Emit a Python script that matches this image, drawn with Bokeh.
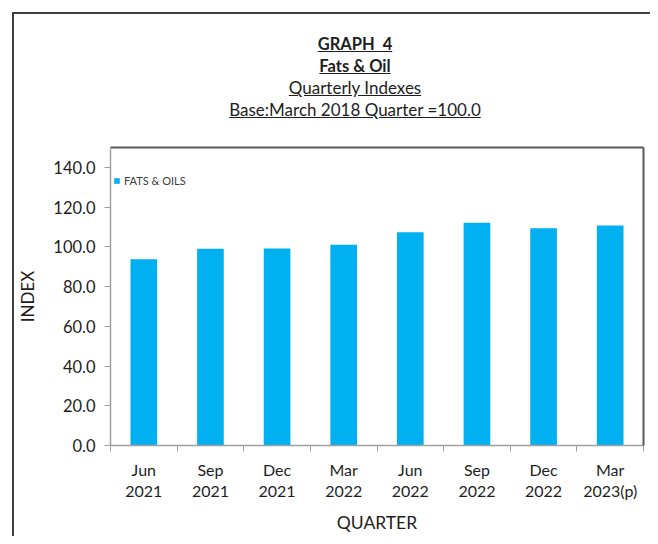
from bokeh.plotting import figure
from bokeh.models import (Div, Range1d, LinearAxis, FixedTicker, Legend, LegendItem,
                          ColumnDataSource, NumeralTickFormatter)
from bokeh.layouts import column
from bokeh.embed import file_html
from bokeh.resources import INLINE

# ---------------- data ----------------
categories = ["Jun\n2021", "Sep\n2021", "Dec\n2021", "Mar\n2022",
              "Jun\n2022", "Sep\n2022", "Dec\n2022", "Mar\n2023(p)"]
values = [93.7, 99.0, 99.1, 101.0, 107.4, 112.1, 109.4, 110.8]
series_name = "FATS & OILS"
y_ticks = [0, 20, 40, 60, 80, 100, 120, 140]
title_lines = ["GRAPH&nbsp;&nbsp;4", "Fats &amp; Oil", "Quarterly Indexes",
               "Base:March 2018 Quarter =100.0"]
x_title = "QUARTER"
y_title = "INDEX"

FONT = "Lato"
TXT = "#1e1e1e"
BAR = "#00B0F0"

n = len(categories)
slot = list(range(n))                       # category slot index
centers = [i + 0.5 for i in slot]           # category centres on the slot scale
bounds = list(range(n + 1))                 # category boundaries

# ---------------- title (HTML, underlined) ----------------
html = (
    f'<div style="margin-left:46px; width:590px; padding-top:19px; text-align:center; '
    f'font-family:{FONT}; font-size:17px; line-height:22px; color:{TXT};">'
    f'<div style="font-weight:bold; font-size:16.5px; text-decoration:underline;">{title_lines[0]}</div>'
    f'<div style="font-weight:bold; font-size:16.5px; text-decoration:underline;">{title_lines[1]}</div>'
    f'<div style="text-decoration:underline;">{title_lines[2]}</div>'
    f'<div style="text-decoration:underline;">{title_lines[3]}</div>'
    f'</div>'
)
head = Div(text=html, width=636, height=120, margin=0)

# ---------------- figure ----------------
src = ColumnDataSource(dict(x=centers, val=values, cat=categories))
p = figure(x_range=Range1d(0, n), y_range=Range1d(0, 150),
           width=636, height=402, output_backend="svg", toolbar_location=None,
           x_axis_location=None, y_axis_location="left",
           min_border_left=96, min_border_right=7, min_border_top=13, min_border_bottom=91,
           margin=0)
p.outline_line_color = None
p.background_fill_color = "white"
p.border_fill_color = "white"
p.grid.visible = False

r = p.vbar(x="x", top="val", width=0.4, source=src, color=BAR, line_color=None)

# x boundary ticks
bx = LinearAxis(ticker=FixedTicker(ticks=bounds),
                axis_line_color="#a0a0a0", axis_line_width=1.5,
                major_tick_line_color="#a0a0a0", major_tick_out=6, major_tick_in=0,
                minor_tick_line_color=None, major_label_standoff=0,
                major_label_overrides={b: "" for b in bounds})
p.add_layout(bx, "below")

# category labels
cx = LinearAxis(ticker=FixedTicker(ticks=centers),
                major_label_overrides={c: lab for c, lab in zip(centers, categories)},
                axis_line_color=None, major_tick_line_color=None, minor_tick_line_color=None,
                major_tick_out=0, major_tick_in=0, major_label_standoff=8,
                major_label_text_font=FONT, major_label_text_font_size="16px",
                major_label_text_color=TXT, major_label_text_line_height=1.15,
                axis_label=x_title, axis_label_text_font=FONT,
                axis_label_text_font_size="17.5px", axis_label_text_font_style="normal",
                axis_label_text_color=TXT, axis_label_standoff=9)
p.add_layout(cx, "below")

# y axis
ya = p.yaxis[0]
ya.ticker = FixedTicker(ticks=y_ticks)
ya.formatter = NumeralTickFormatter(format="0.0")
ya.axis_line_color = "#a0a0a0"
ya.axis_line_width = 1.5
ya.major_tick_line_color = "#a0a0a0"
ya.major_tick_out = 6
ya.major_tick_in = 0
ya.minor_tick_line_color = None
ya.major_label_standoff = 9
ya.major_label_text_font = FONT
ya.major_label_text_font_size = "16.5px"
ya.major_label_text_color = TXT
ya.axis_label = y_title
ya.axis_label_text_font = FONT
ya.axis_label_text_font_size = "17px"
ya.axis_label_text_font_style = "normal"
ya.axis_label_text_color = TXT
ya.axis_label_standoff = 12

# top and right frame lines
top = LinearAxis(ticker=FixedTicker(ticks=[]),
                 axis_line_color="#595959", axis_line_width=2,
                 major_tick_line_color=None, minor_tick_line_color=None)
p.add_layout(top, "above")
right = LinearAxis(ticker=FixedTicker(ticks=[]),
                   axis_line_color="#595959", axis_line_width=2,
                   major_tick_line_color=None, minor_tick_line_color=None)
p.add_layout(right, "right")

legend = Legend(items=[LegendItem(label=series_name, renderers=[r])],
                location=(3, 258), margin=0, padding=0, spacing=0,
                border_line_color=None, background_fill_alpha=0,
                label_text_font=FONT, label_text_font_size="11px",
                label_text_color="#404040", label_height=10,
                glyph_width=7, glyph_height=7, label_standoff=4)
p.add_layout(legend, "center")

layout = column(head, p, margin=(12, 0, 0, 12),
                styles={"border-left": "2px solid #404040", "border-top": "2px solid #404040"})

open("out.html", "w").write(file_html(layout, INLINE))
